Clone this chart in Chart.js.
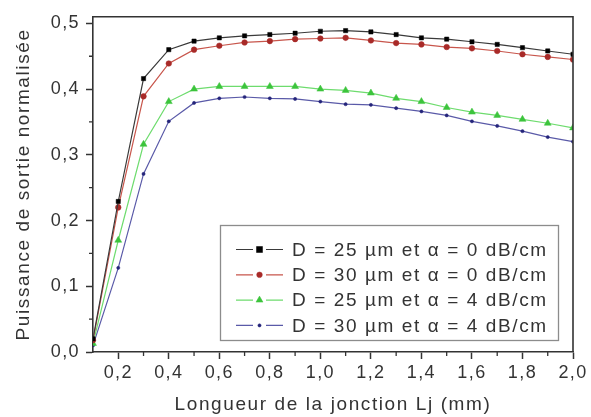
<!DOCTYPE html>
<html>
<head>
<meta charset="utf-8">
<script src="https://cdn.jsdelivr.net/npm/chart.js@4/dist/chart.umd.min.js"></script>
<style>
html,body{margin:0;padding:0;background:#fff;}
canvas{display:block;}
</style>
</head>
<body>
<canvas id="c" width="591" height="417"></canvas>
<script>
// ---- data ----
const xValues = [0.1,0.2,0.3,0.4,0.5,0.6,0.7,0.8,0.9,1.0,1.1,1.2,1.3,1.4,1.5,1.6,1.7,1.8,1.9,2.0];
const d25a0 = [0.020,0.229,0.416,0.460,0.473,0.478,0.481,0.483,0.485,0.488,0.489,0.487,0.483,0.478,0.476,0.472,0.468,0.463,0.458,0.453];
const d30a0 = [0.018,0.220,0.389,0.439,0.460,0.466,0.471,0.473,0.476,0.477,0.478,0.474,0.470,0.468,0.464,0.462,0.458,0.453,0.449,0.445];
const d25a4 = [0.013,0.170,0.316,0.381,0.400,0.404,0.404,0.404,0.404,0.400,0.398,0.394,0.386,0.381,0.372,0.365,0.360,0.354,0.348,0.341];
const d30a4 = [0.010,0.128,0.271,0.351,0.379,0.386,0.388,0.386,0.385,0.381,0.377,0.376,0.371,0.366,0.360,0.351,0.344,0.336,0.327,0.320];
const seriesLabels = [
  'D = 25 \u00b5m et \u03b1 = 0 dB/cm',
  'D = 30 \u00b5m et \u03b1 = 0 dB/cm',
  'D = 25 \u00b5m et \u03b1 = 4 dB/cm',
  'D = 30 \u00b5m et \u03b1 = 4 dB/cm'
];
const xTickValues = [0.2,0.4,0.6,0.8,1.0,1.2,1.4,1.6,1.8,2.0];
const xTickLabels = ['0,2','0,4','0,6','0,8','1,0','1,2','1,4','1,6','1,8','2,0'];
const xMinorTicks = [0.3,0.5,0.7,0.9,1.1,1.3,1.5,1.7,1.9];
const yTickValues = [0.0,0.1,0.2,0.3,0.4,0.5];
const yTickLabels = ['0,0','0,1','0,2','0,3','0,4','0,5'];
const yMinorTicks = [0.05,0.15,0.25,0.35,0.45];
const xTitle = 'Longueur de la jonction Lj (mm)';
const yTitle = 'Puissance de sortie normalis\u00e9e';

const styles = [
  {line:'#3a3a3a', pt:'#000000', shape:'rect', r:3},
  {line:'#c8564c', pt:'#a82a28', shape:'circle', r:2.8},
  {line:'#6edc6e', pt:'#3cc43c', shape:'triangle', r:4},
  {line:'#5a5aa8', pt:'#24247a', shape:'circle', r:1.6}
];
const allSeries = [d25a0, d30a0, d25a4, d30a4];
const TEXT = '#333333';
const AXIS = '#333333';
const FONT = "'Liberation Sans', Arial, sans-serif";

const datasets = allSeries.map((s, i) => ({
  label: seriesLabels[i],
  data: xValues.map((x, j) => ({x: x, y: s[j]})),
  borderColor: styles[i].line,
  backgroundColor: styles[i].pt,
  pointBackgroundColor: styles[i].pt,
  pointBorderColor: styles[i].pt,
  pointStyle: styles[i].shape,
  pointRadius: styles[i].r,
  pointBorderWidth: 0.5,
  borderWidth: 1.2,
  tension: 0,
  fill: false
}));

function drawMarker(ctx, shape, r, x, y, color) {
  ctx.fillStyle = color;
  ctx.strokeStyle = color;
  ctx.lineWidth = 0.5;
  ctx.beginPath();
  if (shape === 'rect') {
    ctx.rect(x - r, y - r, 2 * r, 2 * r);
  } else if (shape === 'triangle') {
    ctx.moveTo(x, y - r);
    ctx.lineTo(x + r * 0.866, y + r * 0.5);
    ctx.lineTo(x - r * 0.866, y + r * 0.5);
    ctx.closePath();
  } else {
    ctx.arc(x, y, r, 0, Math.PI * 2);
  }
  ctx.fill();
  ctx.stroke();
}

const framePlugin = {
  id: 'frame',
  beforeUpdate(chart) { chart.ctx.letterSpacing = '1.6px'; },
  beforeDraw(chart) { chart.ctx.letterSpacing = '1.6px'; },
  afterDatasetsDraw(chart) { chart.ctx.letterSpacing = '1.4px'; },
  afterDraw(chart) {
    const ctx = chart.ctx;
    const a = chart.chartArea;
    const xs = chart.scales.x, ys = chart.scales.y;
    ctx.save();
    ctx.letterSpacing = '0px';
    // top and right frame
    ctx.strokeStyle = AXIS;
    ctx.lineWidth = 1.6;
    ctx.beginPath();
    ctx.moveTo(a.left, a.top);
    ctx.lineTo(a.right, a.top);
    ctx.lineTo(a.right, a.bottom);
    ctx.stroke();
    // minor ticks
    ctx.lineWidth = 1.3;
    ctx.beginPath();
    xMinorTicks.forEach(v => {
      const px = xs.getPixelForValue(v);
      ctx.moveTo(px, a.bottom);
      ctx.lineTo(px, a.bottom + 4);
    });
    yMinorTicks.forEach(v => {
      const py = ys.getPixelForValue(v);
      ctx.moveTo(a.left, py);
      ctx.lineTo(a.left - 4, py);
    });
    ctx.stroke();
    // legend
    const box = {l: 220, t: 225, r: 558, b: 340};
    ctx.fillStyle = '#ffffff';
    ctx.fillRect(box.l, box.t, box.r - box.l, box.b - box.t);
    ctx.strokeStyle = '#8c8c8c';
    ctx.lineWidth = 1.3;
    ctx.strokeRect(box.l + 0.5, box.t + 0.5, box.r - box.l, box.b - box.t);
    const rowY0 = 249.5, rowH = 25.3;
    chart.data.datasets.forEach((ds, i) => {
      const y = rowY0 + i * rowH;
      const st = styles[i];
      ctx.strokeStyle = ds.borderColor;
      ctx.lineWidth = 1.2;
      ctx.beginPath();
      ctx.moveTo(236, y); ctx.lineTo(253, y);
      ctx.moveTo(266, y); ctx.lineTo(283, y);
      ctx.stroke();
      drawMarker(ctx, st.shape, st.r, 259.5, y, st.pt);
      ctx.letterSpacing = '1.6px';
      ctx.fillStyle = TEXT;
      ctx.font = '19px ' + FONT;
      ctx.textAlign = 'left';
      ctx.textBaseline = 'middle';
      ctx.fillText(ds.label, 292, y + 1);
      ctx.letterSpacing = '0px';
    });
    ctx.restore();
  }
};

new Chart(document.getElementById('c'), {
  type: 'line',
  data: { datasets: datasets },
  options: {
    responsive: false,
    animation: false,
    devicePixelRatio: 1,
    layout: { padding: { top: 13, right: 18, left: 0, bottom: 0 } },
    plugins: {
      legend: { display: false },
      tooltip: { enabled: false }
    },
    scales: {
      x: {
        type: 'linear',
        min: 0.1,
        max: 2.0,
        afterBuildTicks(scale) { scale.ticks = xTickValues.map(v => ({value: v})); },
        afterFit(scale) { scale.height = 65; },
        ticks: {
          autoSkip: false,
          maxRotation: 0,
          minRotation: 0,
          padding: 3,
          color: TEXT,
          z: 1,
          font: { family: FONT, size: 18 },
          callback: (v) => { const k = xTickValues.findIndex(t => Math.abs(t - v) < 1e-6); return k >= 0 ? xTickLabels[k] : ''; }
        },
        grid: { display: true, drawOnChartArea: false, drawTicks: true, tickLength: 7, tickColor: AXIS, tickWidth: 1.5 },
        border: { display: true, color: AXIS, width: 1.6 },
        title: { display: true, text: xTitle, color: TEXT, font: { family: FONT, size: 19, lineHeight: 1 }, padding: { top: 0, bottom: 3 } }
      },
      y: {
        type: 'linear',
        min: 0,
        max: 0.51,
        afterBuildTicks(scale) { scale.ticks = yTickValues.map(v => ({value: v})); },
        afterFit(scale) { scale.width = 93; },
        ticks: {
          padding: 6,
          color: TEXT,
          z: 1,
          font: { family: FONT, size: 18 },
          callback: (v) => { const k = yTickValues.findIndex(t => Math.abs(t - v) < 1e-6); return k >= 0 ? yTickLabels[k] : ''; }
        },
        grid: { display: true, drawOnChartArea: false, drawTicks: true, tickLength: 7, tickColor: AXIS, tickWidth: 1.5 },
        border: { display: true, color: AXIS, width: 1.6 },
        title: { display: true, text: yTitle, color: TEXT, font: { family: FONT, size: 19, lineHeight: 1 }, padding: { top: 14, bottom: 0 } }
      }
    }
  },
  plugins: [framePlugin]
});
</script>
</body>
</html>
